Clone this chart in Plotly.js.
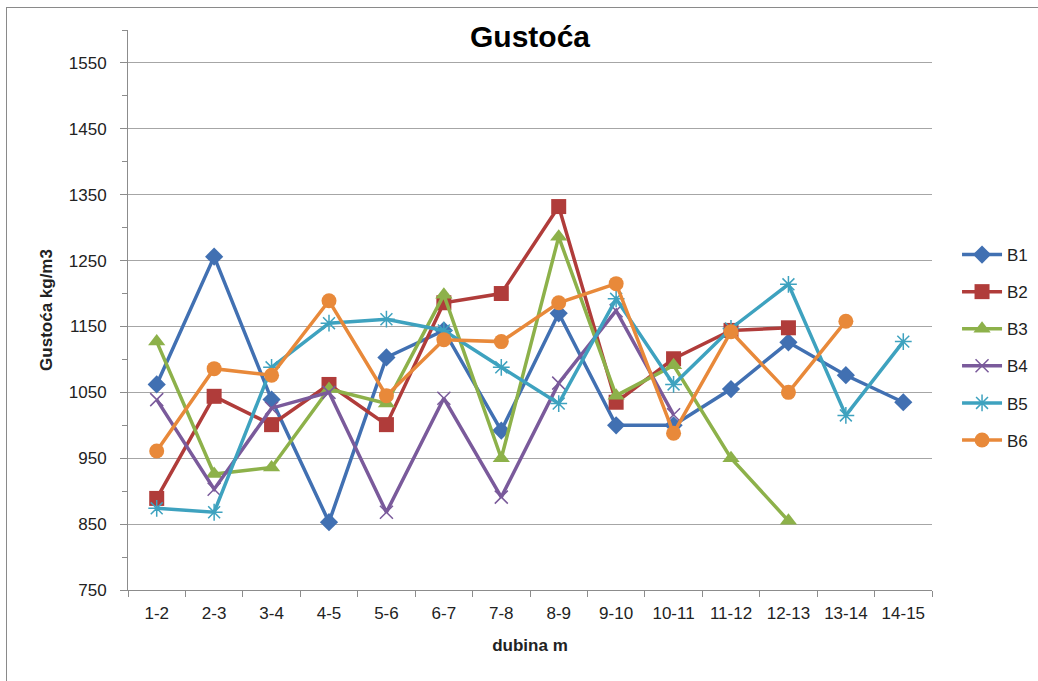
<!DOCTYPE html>
<html><head><meta charset="utf-8">
<script src="https://cdn.plot.ly/plotly-3.0.1.min.js"></script>
<style>html,body{margin:0;padding:0;background:#fff;}#wrap{position:absolute;left:6px;top:7px;width:1040px;height:680px;border:1px solid #8a8a8a;box-sizing:border-box;}#chart{position:absolute;left:0;top:0;width:1038px;height:681px;}</style>
</head><body>
<div id="wrap"></div>
<div id="chart"></div>
<script>
const categories = ["1-2","2-3","3-4","4-5","5-6","6-7","7-8","8-9","9-10","10-11","11-12","12-13","13-14","14-15"];
const B1 = [1062,1256,1039,853,1103,1144,992,1170,1000,1000,1055,1126,1076,1035];
const B2 = [889,1044,1001,1062,1001,1186,1200,1332,1035,1101,1144,1148];
const B3 = [1127,926,936,1055,1033,1198,950,1286,1045,1091,950,855];
const B4 = [1039,903,1026,1050,868,1041,891,1064,1174,1016];
const B5 = [874,868,1088,1155,1161,1144,1088,1033,1192,1062,1147,1214,1015,1127];
const B6 = [961,1086,1076,1189,1045,1130,1127,1186,1215,988,1142,1050,1158];
const seriesNames = ["B1","B2","B3","B4","B5","B6"];
const yTicks = [750,850,950,1050,1150,1250,1350,1450,1550];
const yMinorTicks = [800,900,1000,1100,1200,1300,1400,1500,1600];

const data = [B1,B2,B3,B4,B5,B6];
const colors = ["#4170B2","#B03C3A","#8DB14A","#7A5A9B","#3EA2BF","#E8893A"];
const symbols = ["diamond","square","triangle-up","x-thin-open","asterisk-open","circle"];
const sizes = [14,15,15,13,14,15];
const traces = data.map((d,i)=>({
  type:"scatter", mode:"lines+markers", name:seriesNames[i], legendgroup:"g"+i,
  x: categories.slice(0,d.length), y: d,
  line:{color:colors[i], width:3.5},
  marker:{symbol:symbols[i], size:sizes[i], color:colors[i], line:{color:colors[i], width: (i===3||i===4)?1.5:0}}
}));
const font = "Liberation Sans, Arial";
const layout = {
  width:1038, height:681,
  margin:{l:128, r:106, t:30, b:91},
  paper_bgcolor:"rgba(0,0,0,0)", plot_bgcolor:"rgba(0,0,0,0)",
  showlegend:true,
  legend:{x:0.922, y:0.652, xref:"container", yref:"container", xanchor:"left", yanchor:"top", font:{family:font, size:17, color:"#222"},
    traceorder:"grouped", tracegroupgap:12, itemwidth:40, bgcolor:"rgba(0,0,0,0)"},
  title:{text:"<b>Gustoća</b>", font:{family:font, size:30, color:"#000"}, x:0.5, xref:"paper", y:0.946, yref:"container", yanchor:"middle"},
  xaxis:{type:"category", categoryorder:"array", categoryarray:categories, range:[-0.5,13.5],
    showline:true, linecolor:"#8c8c8c", linewidth:1, showgrid:false, zeroline:false,
    ticks:"outside", tickson:"boundaries", ticklen:6, tickcolor:"#8c8c8c", ticklabelstandoff:8,
    tickfont:{family:font, size:17, color:"#222"},
    title:{text:"<b>dubina m</b>", font:{family:font, size:17, color:"#222"}, standoff:16}},
  yaxis:{range:[750,1600], tickvals:yTicks, ticktext:yTicks.map(String),
    showline:true, linecolor:"#8c8c8c", linewidth:1, showgrid:true, gridcolor:"#a6a6a6", gridwidth:1, zeroline:false,
    ticks:"outside", ticklen:7, tickcolor:"#8c8c8c", ticklabelstandoff:10,
    minor:{tickvals:yMinorTicks, ticks:"outside", ticklen:5, tickcolor:"#8c8c8c", showgrid:false},
    tickfont:{family:font, size:17, color:"#222"},
    title:{text:"<b>Gustoća kg/m3</b>", font:{family:font, size:17, color:"#222"}, standoff:11}}
};
Plotly.newPlot("chart", traces, layout, {displayModeBar:false, staticPlot:true});
</script>
</body></html>
